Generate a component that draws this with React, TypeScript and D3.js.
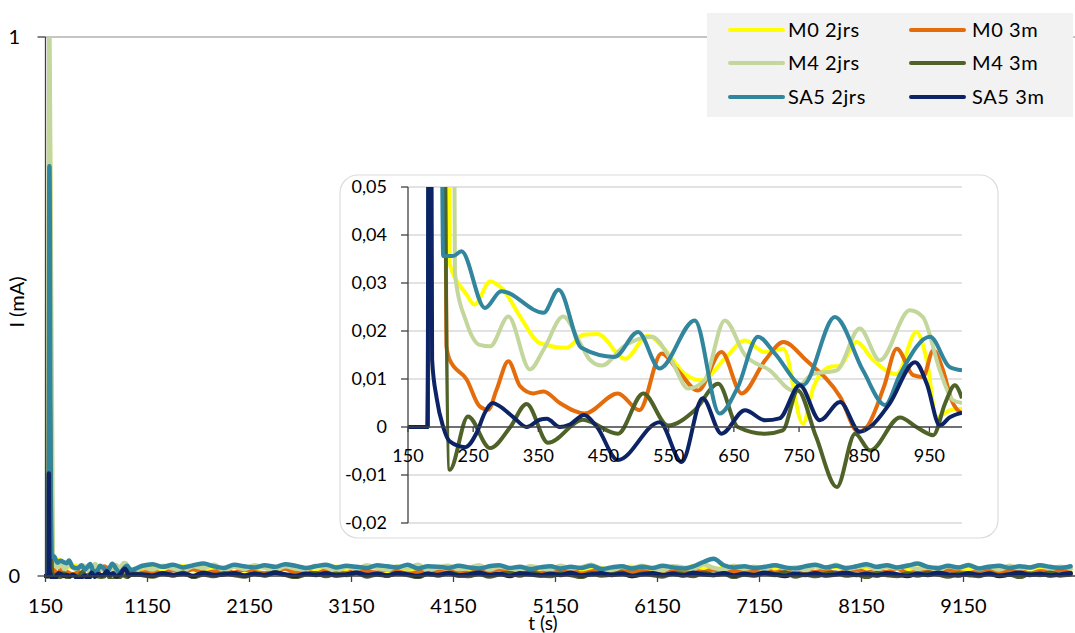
import React from "react";
import * as d3 from "d3";

type P = [number, number];

const SERIES_NAMES = ["M0 2jrs", "M0 3m", "M4 2jrs", "M4 3m", "SA5 2jrs", "SA5 3m"];
const SERIES_COLORS = ["#FFFF00", "#E46C0A", "#C3D69B", "#4F6228", "#31859C", "#0C2466"];

// Early part (150–1000 s): [t (s), I (mA)]
const M0_2JRS_EARLY: P[] = [[150,0],[180,0],[188,0.95],[214,0.034],[240,0.0276],[252,0.0255],[276,0.0303],[296,0.0286],[322,0.023],[352,0.0175],[393,0.0165],[419,0.0192],[441,0.0194],[483,0.0142],[518,0.019],[543,0.0163],[575,0.011],[601,0.0097],[636,0.0142],[667,0.018],[698,0.0156],[726,0.0163],[756,0.0007],[772,0.0083],[797,0.0125],[813,0.0128],[838,0.0177],[864,0.0139],[900,0.011],[930,0.0198],[946,0.0139],[961,0.002],[982,0.0035],[1000,0.0038]];
const M0_3M_EARLY: P[] = [[150,0],[180,0],[188,0.45],[209,0.0168],[214,0.014],[240,0.0099],[260,0.0043],[273,0.0036],[286,0.0078],[304,0.0137],[322,0.0085],[342,0.007],[358,0.0074],[383,0.005],[421,0.0028],[472,0.007],[505,0.0035],[539,0.0153],[564,0.0118],[595,0.0076],[631,0.0156],[662,0.007],[698,0.0139],[726,0.0177],[761,0.0139],[813,0.0063],[841,-0.001],[854,0],[880,0.0083],[900,0.0163],[925,0.0108],[940,0.0104],[956,0.016],[971,0.0118],[984,0.0056],[1000,0.0028]];
const M4_2JRS_EARLY: P[] = [[150,0],[180,0],[188,1.02],[222,0.032],[240,0.0217],[260,0.0171],[276,0.0168],[304,0.023],[337,0.012],[358,0.0161],[388,0.023],[414,0.0175],[429,0.014],[447,0.0128],[483,0.017],[524,0.0188],[554,0.0139],[580,0.008],[605,0.0097],[636,0.0222],[667,0.015],[705,0.0118],[741,0.0076],[771,0.011],[808,0.0118],[843,0.0205],[874,0.0139],[920,0.0243],[940,0.0229],[966,0.0118],[986,0.0056],[1000,0.005]];
const M4_3M_EARLY: P[] = [[150,0],[180,0],[188,0.35],[214,-0.0089],[242,0.0022],[276,-0.0044],[307,0],[332,0.0048],[365,-0.0033],[418,0.0015],[472,-0.0014],[511,0.007],[549,0.0003],[590,0.0035],[626,0.009],[656,0],[698,-0.0014],[725,-0.0007],[748,0.0076],[776,-0.002],[808,-0.0125],[836,-0.0014],[859,-0.0049],[905,0.002],[930,0],[956,-0.0017],[974,0.0049],[989,0.0087],[1000,0.006]];
const SA5_2JRS_EARLY: P[] = [[150,0],[180,0],[188,0.76],[204,0.0356],[219,0.0356],[232,0.0366],[268,0.0248],[293,0.0283],[358,0.0238],[381,0.0286],[416,0.0165],[467,0.0146],[503,0.0198],[536,0.0122],[590,0.0222],[628,0.0028],[656,0.0083],[687,0.0188],[713,0.0153],[756,0.0087],[805,0.0229],[848,0.0118],[882,0.0046],[905,0.011],[951,0.0188],[981,0.0125],[1000,0.0118]];
const SA5_3M_EARLY: P[] = [[150,0],[180,0],[183,0.19],[187,0.014],[194,0.006],[204,0],[214,-0.003],[238,-0.0042],[255,-0.0013],[268,0.003],[280,0.005],[291,0.0043],[312,0.002],[332,0],[352,0.0015],[363,0.0017],[383,0],[398,0.0005],[420,0.0025],[440,0],[472,-0.0069],[536,0.001],[570,-0.0073],[602,0.006],[631,-0.0014],[667,0.0035],[698,0.0014],[720,0.0018],[751,0.0087],[782,0.0014],[813,0.0052],[843,-0.001],[859,0],[889,0.0049],[928,0.0135],[946,0.009],[966,0.0003],[981,0.002],[1000,0.003]];

// Later part (1100–10200 s, every 100 s), estimated from the main plot
const MAIN_T = d3.range(1100, 10201, 100);
const M0_2JRS_LATE = [0.012,0.016,0.010,0.014,0.018,0.011,0.009,0.015,0.013,0.017,0.010,0.012,0.016,0.008,0.014,0.011,0.015,0.009,0.013,0.017,0.012,0.010,0.014,0.016,0.009,0.013,0.011,0.015,0.010,0.014,0.017,0.011,0.009,0.013,0.016,0.010,0.014,0.012,0.008,0.015,0.013,0.011,0.016,0.010,0.012,0.015,0.009,0.014,0.017,0.011,0.013,0.010,0.015,0.012,0.018,0.014,0.011,0.016,0.009,0.013,0.015,0.011,0.014,0.010,0.016,0.012,0.009,0.014,0.017,0.011,0.013,0.015,0.010,0.012,0.016,0.011,0.014,0.009,0.013,0.015,0.012,0.010,0.014,0.016,0.011,0.013,0.009,0.015,0.012,0.014,0.011,0.013];
const M0_3M_LATE = [0.006,0.009,0.004,0.011,0.007,0.013,0.005,0.008,0.010,0.006,0.012,0.007,0.005,0.009,0.014,0.006,0.008,0.004,0.010,0.007,0.005,0.011,0.008,0.006,0.013,0.009,0.004,0.007,0.012,0.008,0.006,0.010,0.005,0.009,0.007,0.014,0.006,0.008,0.011,0.005,0.009,0.007,0.012,0.004,0.008,0.010,0.006,0.013,0.007,0.009,0.005,0.011,0.008,0.006,0.010,0.007,0.012,0.005,0.009,0.006,0.008,0.013,0.006,0.010,0.004,0.009,0.007,0.011,0.005,0.008,0.012,0.006,0.009,0.007,0.014,0.005,0.008,0.010,0.006,0.011,0.007,0.005,0.009,0.012,0.006,0.008,0.010,0.004,0.009,0.007,0.011,0.006];
const M4_2JRS_LATE = [0.016,0.012,0.019,0.014,0.010,0.018,0.015,0.021,0.011,0.017,0.013,0.020,0.015,0.011,0.018,0.014,0.012,0.019,0.016,0.010,0.017,0.013,0.020,0.015,0.012,0.018,0.014,0.021,0.011,0.016,0.019,0.013,0.015,0.020,0.012,0.017,0.014,0.011,0.018,0.015,0.012,0.019,0.014,0.016,0.021,0.013,0.010,0.017,0.015,0.019,0.014,0.011,0.018,0.016,0.013,0.022,0.015,0.012,0.019,0.014,0.017,0.012,0.020,0.014,0.016,0.011,0.018,0.015,0.021,0.013,0.016,0.019,0.012,0.017,0.014,0.020,0.013,0.016,0.011,0.018,0.015,0.021,0.013,0.017,0.012,0.019,0.014,0.016,0.020,0.013,0.017,0.014];
const M4_3M_LATE = [0.002,-0.001,0.004,0.001,0.006,-0.002,0.003,0.000,0.005,0.002,-0.001,0.004,0.001,0.007,0.002,-0.002,0.003,0.005,0.000,0.004,0.002,0.006,-0.001,0.003,0.001,0.005,0.002,-0.002,0.004,0.001,0.006,0.002,0.000,0.004,-0.001,0.003,0.005,0.001,0.007,0.002,0.000,0.004,0.002,-0.002,0.005,0.001,0.003,0.006,0.000,0.004,0.002,-0.001,0.005,0.003,0.000,0.006,0.002,0.004,-0.002,0.003,0.001,0.005,0.002,0.007,-0.001,0.003,0.000,0.004,0.006,0.001,0.003,-0.002,0.005,0.002,0.000,0.004,0.001,0.006,0.003,-0.001,0.004,0.002,0.000,0.005,0.001,0.003,-0.002,0.004,0.002,0.006,0.001,0.003];
const SA5_2JRS_LATE = [0.019,0.022,0.017,0.021,0.016,0.020,0.023,0.018,0.015,0.021,0.018,0.016,0.020,0.017,0.022,0.019,0.015,0.018,0.021,0.016,0.019,0.017,0.015,0.020,0.018,0.016,0.021,0.014,0.018,0.017,0.015,0.019,0.016,0.014,0.018,0.020,0.015,0.017,0.013,0.016,0.018,0.014,0.017,0.015,0.019,0.013,0.016,0.018,0.014,0.017,0.015,0.019,0.016,0.014,0.018,0.026,0.032,0.020,0.016,0.018,0.015,0.017,0.020,0.016,0.014,0.018,0.021,0.016,0.019,0.015,0.018,0.022,0.017,0.020,0.016,0.019,0.023,0.017,0.015,0.019,0.016,0.020,0.014,0.017,0.019,0.015,0.018,0.016,0.020,0.017,0.015,0.018];
const SA5_3M_LATE = [0.003,0.001,0.005,0.002,0.004,0.000,0.006,0.002,0.003,0.005,0.001,0.004,0.002,0.006,0.003,0.000,0.004,0.002,0.005,0.001,0.003,0.006,0.002,0.004,0.001,0.005,0.003,0.000,0.004,0.002,0.005,0.001,0.003,0.006,0.002,0.004,0.000,0.005,0.003,0.001,0.004,0.002,0.006,0.001,0.003,0.005,0.002,0.004,0.000,0.003,0.005,0.002,0.004,0.001,0.006,0.003,0.002,0.005,0.001,0.004,0.002,0.006,0.003,0.000,0.004,0.002,0.005,0.001,0.003,0.006,0.002,0.004,0.001,0.005,0.003,0.000,0.004,0.002,0.006,0.003,0.001,0.005,0.002,0.004,0.000,0.003,0.006,0.002,0.004,0.001,0.003,0.005];

const MAIN_X_TICKS = [150, 1150, 2150, 3150, 4150, 5150, 6150, 7150, 8150, 9150];
const MAIN_Y_TICKS = [0, 1];
const INSET_X_TICKS = [150, 250, 350, 450, 550, 650, 750, 850, 950];
const INSET_Y_TICKS = [-0.02, -0.01, 0, 0.01, 0.02, 0.03, 0.04, 0.05];

const EARLY = [M0_2JRS_EARLY, M0_3M_EARLY, M4_2JRS_EARLY, M4_3M_EARLY, SA5_2JRS_EARLY, SA5_3M_EARLY];
const LATE = [M0_2JRS_LATE, M0_3M_LATE, M4_2JRS_LATE, M4_3M_LATE, SA5_2JRS_LATE, SA5_3M_LATE];

const FONT = "Lato, 'Open Sans', sans-serif";
const TXT = "#000";

export default function App() {
  const W = 1075, H = 633;
  const xMain = d3.scaleLinear().domain([150, 10250]).range([45.5, 1075.7]);
  const yMain = d3.scaleLinear().domain([0, 1]).range([576, 37]);
  const xIn = d3.scaleLinear().domain([150, 1000]).range([408, 962]);
  const yIn = d3.scaleLinear().domain([-0.02, 0.05]).range([523, 187]);

  const mainLine = d3.line<P>().x(d => xMain(d[0])).y(d => yMain(d[1])).curve(d3.curveMonotoneX);
  const inLine = d3.line<P>().x(d => xIn(d[0])).y(d => yIn(d[1])).curve(d3.curveMonotoneX);

  const mainData: P[][] = EARLY.map((e, i) => [...e, ...MAIN_T.map((t, j) => [t, LATE[i][j]] as P)]);

  const fmtIn = (v: number) => (v === 0 ? "0" : v.toFixed(2).replace(".", ","));

  const legendCols = [{ lx: 730, tx: 788 }, { lx: 911, tx: 972 }];
  const legendRows = [30, 63, 97];

  return (
    <svg width={W} height={H} style={{ position: "absolute", left: 0, top: 0, background: "#fff" }} fontFamily={FONT}>
      <defs>
        <clipPath id="mainClip"><rect x={44} y={37} width={1040} height={542} /></clipPath>
        <clipPath id="inClip"><rect x={xIn(150)} y={yIn(0.05)} width={xIn(1000) - xIn(150)} height={yIn(-0.02) - yIn(0.05)} /></clipPath>
      </defs>
      <rect width={W} height={H} fill="#fff" />

      {MAIN_Y_TICKS.filter(v => v > 0).map(v => (
        <line key={v} x1={xMain(150)} x2={W} y1={yMain(v)} y2={yMain(v)} stroke="#8c8c8c" strokeWidth={1.2} />
      ))}

      <g clipPath="url(#mainClip)">
        {mainData.map((d, i) => (
          <path key={i} d={mainLine(d) || ""} fill="none" stroke={SERIES_COLORS[i]} strokeWidth={4.5} strokeLinejoin="round" strokeLinecap="round" />
        ))}
      </g>

      <line x1={xMain(150)} x2={xMain(150)} y1={yMain(1)} y2={yMain(0)} stroke="#404040" strokeWidth={1.3} />
      <line x1={xMain(150)} x2={W} y1={yMain(0)} y2={yMain(0)} stroke="#404040" strokeWidth={1.3} />
      {MAIN_Y_TICKS.map(v => (
        <g key={v}>
          <line x1={xMain(150) - 8} x2={xMain(150)} y1={yMain(v)} y2={yMain(v)} stroke="#404040" strokeWidth={1.3} />
          <text x={20} y={yMain(v) + 7} textAnchor="end" fontSize={20} fill={TXT}>{v}</text>
        </g>
      ))}
      {MAIN_X_TICKS.map(v => (
        <g key={v}>
          <line x1={xMain(v)} x2={xMain(v)} y1={yMain(0)} y2={yMain(0) + 6} stroke="#404040" strokeWidth={1.3} />
          <text x={xMain(v)} y={613} textAnchor="middle" fontSize={20} fill={TXT}>{v}</text>
        </g>
      ))}
      <text x={543} y={630} textAnchor="middle" fontSize={19} fill={TXT}>t (s)</text>
      <text transform="translate(24,302) rotate(-90)" textAnchor="middle" fontSize={20} fill={TXT}>I (mA)</text>

      <rect x={707} y={13} width={366} height={104} fill="#F2F2F2" />
      {SERIES_NAMES.map((name, i) => {
        const c = legendCols[i % 2];
        const y = legendRows[Math.floor(i / 2)];
        return (
          <g key={name}>
            <line x1={c.lx} x2={c.lx + 53} y1={y} y2={y} stroke={SERIES_COLORS[i]} strokeWidth={4} strokeLinecap="round" />
            <text x={c.tx} y={y} dy="0.36em" fontSize={20} letterSpacing={0.6} fill={TXT}>{name}</text>
          </g>
        );
      })}

      <rect x={340} y={175} width={658} height={363} rx={18} ry={18} fill="#fff" stroke="#dcdcdc" strokeWidth={1.2} />
      {INSET_Y_TICKS.filter(v => v !== 0).map(v => (
        <line key={v} x1={xIn(150)} x2={xIn(1000)} y1={yIn(v)} y2={yIn(v)} stroke="#d9d9d9" strokeWidth={1.5} />
      ))}
      <g clipPath="url(#inClip)">
        {EARLY.map((d, i) => (
          <path key={i} d={inLine(d) || ""} fill="none" stroke={SERIES_COLORS[i]} strokeWidth={4} strokeLinejoin="round" strokeLinecap="butt" />
        ))}
      </g>
      <line x1={xIn(150)} x2={xIn(150)} y1={yIn(0.05)} y2={yIn(-0.02)} stroke="#404040" strokeWidth={1.3} />
      <line x1={xIn(150)} x2={xIn(1000)} y1={yIn(0)} y2={yIn(0)} stroke="#404040" strokeWidth={1.3} />
      {INSET_Y_TICKS.map(v => (
        <g key={v}>
          <line x1={xIn(150) - 7} x2={xIn(150)} y1={yIn(v)} y2={yIn(v)} stroke="#404040" strokeWidth={1.3} />
          <text x={387} y={yIn(v) + 6} textAnchor="end" fontSize={18} fill={TXT}>{fmtIn(v)}</text>
        </g>
      ))}
      {INSET_X_TICKS.map(v => (
        <g key={v}>
          <line x1={xIn(v)} x2={xIn(v)} y1={yIn(0)} y2={yIn(0) + 5} stroke="#404040" strokeWidth={1.3} />
          <text x={xIn(v)} y={462} textAnchor="middle" fontSize={18} fill={TXT}>{v}</text>
        </g>
      ))}
    </svg>
  );
}
